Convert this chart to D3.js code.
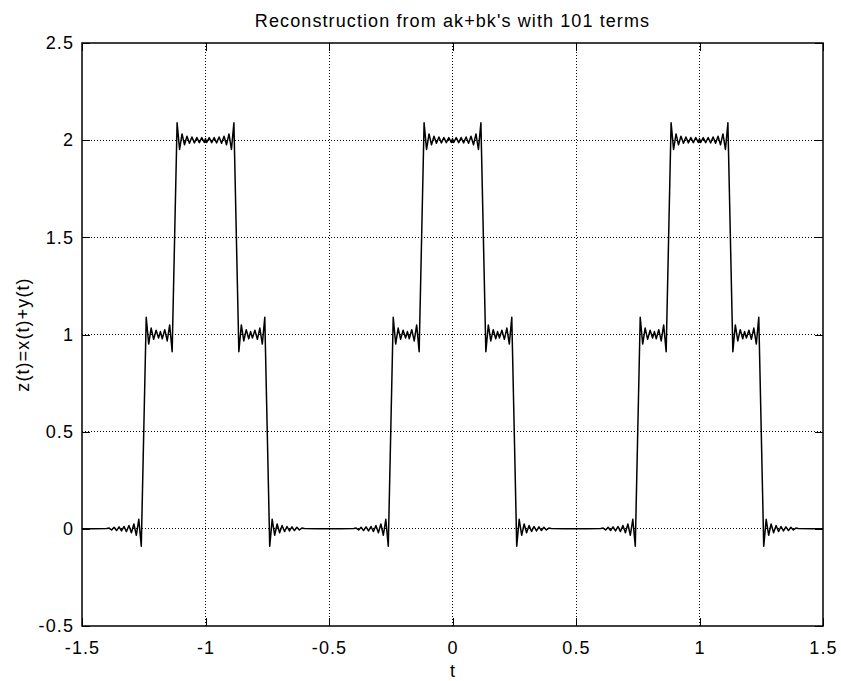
<!DOCTYPE html>
<html>
<head>
<meta charset="utf-8">
<script src="https://cdn.jsdelivr.net/npm/d3@7"></script>
<style>
  body { margin: 0; background: #fff; }
  svg { font-family: "Liberation Sans", Arial, sans-serif; }
</style>
</head>
<body>
<svg id="chart"></svg>
<script>
// one period of the reconstructed signal (t from -0.5 to 0.5)
const periodT = [
  -0.5, -0.45, -0.4, -0.39, -0.38, -0.37, -0.36, -0.35, -0.34, -0.33, -0.32, -0.31,
  -0.3, -0.29, -0.28, -0.27, -0.26, -0.25,
  -0.24, -0.23, -0.22, -0.21, -0.2, -0.19, -0.1825, -0.175, -0.165, -0.155, -0.145, -0.135, -0.125,
  -0.115, -0.105, -0.095, -0.085, -0.075, -0.065, -0.055, -0.045, -0.035, -0.025, -0.015, -0.005, 0,
  0.005, 0.015, 0.025, 0.035, 0.045, 0.055, 0.065, 0.075, 0.085, 0.095, 0.105, 0.115, 0.125,
  0.135, 0.145, 0.155, 0.165, 0.175, 0.1825, 0.19, 0.2, 0.21, 0.22, 0.23, 0.24, 0.25,
  0.26, 0.27, 0.28, 0.29, 0.3, 0.31, 0.32, 0.33, 0.34, 0.35, 0.36, 0.37, 0.38, 0.39, 0.4, 0.45, 0.5
];
const periodZ = [
  0, 0, 0.002, 0.004, -0.006, 0.008, -0.009, 0.01, -0.011, 0.012, -0.014, 0.017,
  -0.02, 0.025, -0.033, 0.049, -0.089, 0.5,
  1.089, 0.951, 1.033, 0.975, 1.022, 0.982, 1.015, 0.978, 1.025, 0.967, 1.049, 0.911, 1.5,
  2.089, 1.952, 2.032, 1.976, 2.02, 1.984, 2.016, 1.986, 2.014, 1.987, 2.013, 1.988, 2.008,
  1.988, 2.013, 1.987, 2.014, 1.986, 2.016, 1.984, 2.02, 1.976, 2.032, 1.952, 2.089, 1.5,
  0.911, 1.049, 0.967, 1.025, 0.978, 1.015, 0.982, 1.022, 0.975, 1.033, 0.951, 1.089, 0.5,
  -0.089, 0.049, -0.033, 0.025, -0.02, 0.017, -0.014, 0.012, -0.011, 0.01, -0.009, 0.008, -0.006, 0.004, 0.002, 0, 0
];
// the plot shows three periods of it
const periodShifts = [-1, 0, 1];

const xTicks = [-1.5, -1, -0.5, 0, 0.5, 1, 1.5];
const yTicks = [-0.5, 0, 0.5, 1, 1.5, 2, 2.5];

const titleText = "Reconstruction from ak+bk's with 101 terms";
const xLabel = "t";
const yLabel = "z(t)=x(t)+y(t)";

const width = 841;
const height = 681;
const margin = { top: 43, right: 18, bottom: 55, left: 82 };
const innerW = width - margin.left - margin.right;
const innerH = height - margin.top - margin.bottom;
const fontSize = 18;
const spacing = "1.1px";

const points = [];
periodShifts.forEach((s) => {
  periodT.forEach((t, i) => points.push([t + s, periodZ[i]]));
});

const x = d3.scaleLinear().domain([-1.5, 1.5]).range([0, innerW]);
const y = d3.scaleLinear().domain([-0.5, 2.5]).range([innerH, 0]);

const svg = d3.select("#chart").attr("width", width).attr("height", height);
const g = svg.append("g").attr("transform", `translate(${margin.left},${margin.top})`);

// dotted grid
const grid = g.append("g").attr("class", "grid");
grid.selectAll("line.gx")
  .data(xTicks.slice(1, -1))
  .join((enter) => enter.append("line").attr("class", "gx"))
  .attr("x1", (d) => x(d)).attr("x2", (d) => x(d))
  .attr("y1", 0).attr("y2", innerH);
grid.selectAll("line.gy")
  .data(yTicks.slice(1, -1))
  .join((enter) => enter.append("line").attr("class", "gy"))
  .attr("x1", 0).attr("x2", innerW)
  .attr("y1", (d) => y(d)).attr("y2", (d) => y(d));
grid.selectAll("line")
  .attr("stroke", "#000")
  .attr("stroke-width", 1)
  .attr("stroke-dasharray", "1,2")
  .attr("shape-rendering", "crispEdges");

// axes with inward ticks
const fmt = (d) => String(d);
const xAxis = g.append("g")
  .attr("transform", `translate(0,${innerH})`)
  .call(d3.axisBottom(x).tickValues(xTicks).tickFormat(fmt).tickSizeInner(-8).tickSizeOuter(0).tickPadding(15));
const yAxis = g.append("g")
  .call(d3.axisLeft(y).tickValues(yTicks).tickFormat(fmt).tickSizeInner(-8).tickSizeOuter(0).tickPadding(8));
const xTop = g.append("g")
  .call(d3.axisTop(x).tickValues(xTicks).tickFormat("").tickSizeInner(-8).tickSizeOuter(0));
const yRight = g.append("g")
  .attr("transform", `translate(${innerW},0)`)
  .call(d3.axisRight(y).tickValues(yTicks).tickFormat("").tickSizeInner(-8).tickSizeOuter(0));

[xAxis, yAxis, xTop, yRight].forEach((a) => {
  a.select(".domain").remove();
  a.selectAll("line").attr("stroke", "#000").attr("shape-rendering", "crispEdges");
  a.selectAll("text")
    .attr("fill", "#000")
    .style("font-family", '"Liberation Sans", Arial, sans-serif')
    .style("font-size", fontSize + "px")
    .style("letter-spacing", spacing);
});

// box
g.append("rect")
  .attr("x", 0).attr("y", 0)
  .attr("width", innerW).attr("height", innerH)
  .attr("fill", "none")
  .attr("stroke", "#000")
  .attr("stroke-width", 1.5);

// curve
g.append("path")
  .datum(points)
  .attr("fill", "none")
  .attr("stroke", "#000")
  .attr("stroke-width", 1.5)
  .attr("stroke-linejoin", "round")
  .attr("d", d3.line().x((d) => x(d[0])).y((d) => y(d[1])));

// labels
svg.append("text")
  .attr("x", margin.left + innerW / 2)
  .attr("y", 27)
  .attr("text-anchor", "middle")
  .style("font-size", fontSize + "px")
  .style("letter-spacing", spacing)
  .text(titleText);

svg.append("text")
  .attr("x", margin.left + innerW / 2)
  .attr("y", 677)
  .attr("text-anchor", "middle")
  .style("font-size", fontSize + "px")
  .text(xLabel);

svg.append("text")
  .attr("transform", `translate(29,${margin.top + innerH / 2}) rotate(-90)`)
  .attr("text-anchor", "middle")
  .style("font-size", fontSize + "px")
  .style("letter-spacing", spacing)
  .text(yLabel);
</script>
</body>
</html>
